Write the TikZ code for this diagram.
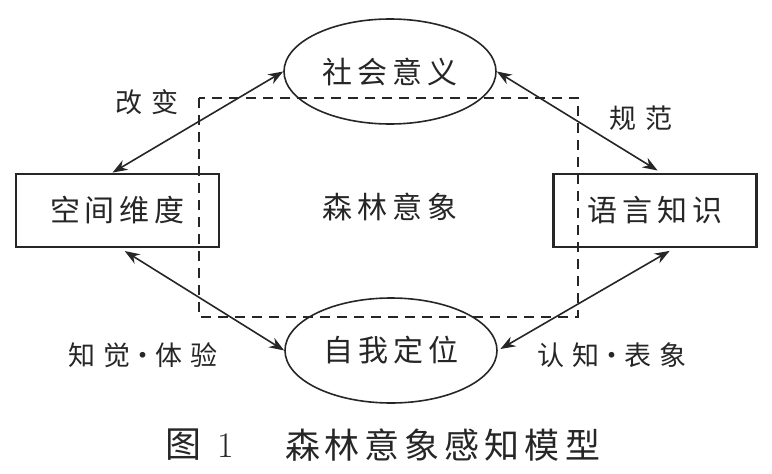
\documentclass[tikz,border=0pt]{standalone}
\usepackage{fontspec}
\usetikzlibrary{shapes.geometric,arrows.meta}
\newfontfamily\cjk{Noto Sans CJK SC}
\newcommand\cjkgap{\hspace{5pt}}
\newcommand\labgap{\hspace{10pt}}
\newcommand\dotgap{\hspace{8pt}}
\begin{document}
\begin{tikzpicture}[x=1pt,y=-1pt,
  bodytxt/.style={font=\cjk\fontsize{30pt}{32pt}\selectfont, text=black!85},
  labtxt/.style={font=\cjk\fontsize{27pt}{29pt}\selectfont, text=black!85},
  boxnode/.style={draw=black!85, line width=2.8pt, rectangle, minimum width=203pt, minimum height=73pt, inner sep=0pt, bodytxt},
  ellnode/.style={draw=black!85, line width=1.6pt, ellipse, minimum width=212pt, minimum height=105pt, inner sep=0pt, bodytxt},
  conn/.style={draw=black!85, line width=1.6pt, {Stealth[length=15pt,width=11pt]}-{Stealth[length=15pt,width=11pt]}},
  dashbox/.style={draw=black!85, line width=2.9pt, dash pattern=on 10pt off 7pt}
]
\useasboundingbox (0,0) rectangle (772,474);

% dashed frame
\coordinate (d1) at (199,98);
\coordinate (d2) at (578,317);
\draw[dashbox] (d1) rectangle (d2);

% nodes
\node[ellnode] (top) at (390,71.5) {社\cjkgap 会\cjkgap 意\cjkgap 义};
\node[ellnode] (bot) at (391,350.5) {自\cjkgap 我\cjkgap 定\cjkgap 位};
\node[boxnode] (L) at (117.5,210.5) {空\cjkgap 间\cjkgap 维\cjkgap 度};
\node[boxnode] (R) at (655,210.5) {语\cjkgap 言\cjkgap 知\cjkgap 识};
\node[bodytxt] (mid) at (390,207) {森\cjkgap 林\cjkgap 意\cjkgap 象};

% connectors
\draw[conn] (top.west) -- ([xshift=-5pt]L.north);
\draw[conn, shorten >=4pt] (top.east) -- ([xshift=6pt]R.north);
\draw[conn, shorten <=5pt] ([xshift=3pt]L.south) -- (bot.west);
\draw[conn, shorten >=5pt, shorten <=3pt] (bot.east) -- ([xshift=19pt]R.south);

% labels
\node[labtxt] (l1) at (147,102) {改\labgap 变};
\node[labtxt] (l2) at (641,118) {规\labgap 范};
\node[labtxt] (l3) at (143,355) {知\dotgap 觉\hspace{-1pt}·\hspace{-1pt}体\dotgap 验};
\node[labtxt] (l4) at (612,355) {认\dotgap 知\hspace{-1pt}·\hspace{-1pt}表\dotgap 象};

% caption
\node[font=\fontsize{36pt}{38pt}\selectfont, text=black!85] (c1) at (200,445) {{\cjk 图}\hspace{16pt}1};
\node[font=\cjk\fontsize{35pt}{37pt}\selectfont, text=black!85] (c2) at (442.5,445) {森\cjkgap 林\cjkgap 意\cjkgap 象\cjkgap 感\cjkgap 知\cjkgap 模\cjkgap 型};
\end{tikzpicture}
\end{document}
